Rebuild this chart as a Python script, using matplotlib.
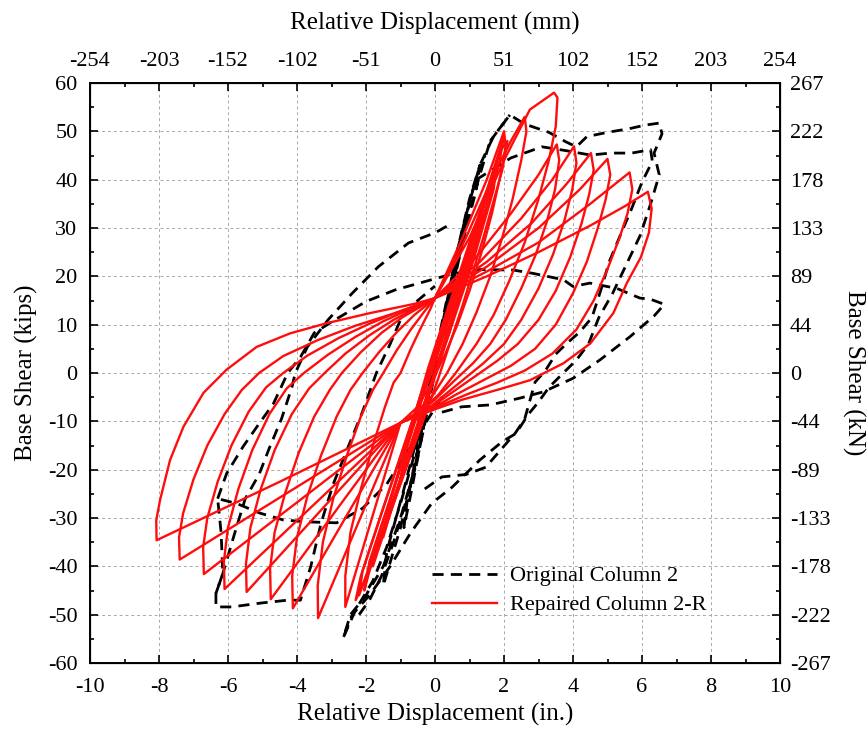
''' base shear vs relative displacement - original column 2 vs repaired column 2-R '''

import numpy as np
import matplotlib.pyplot as plt
from matplotlib.ticker import MultipleLocator

plt.rcParams['font.family'] = ['Liberation Serif', 'DejaVu Serif']
plt.rcParams['axes.unicode_minus'] = False

# ---- repaired column 2-R (red), big cycles, (disp in., shear kips) ----
rep_loop1 = [(0, 15.5), (1.5, 20), (3, 25), (4.5, 30.5), (5.5, 34.5), (6.17, 37.5), (6.28, 34), (6.2, 29),
             (5.97, 24), (5.56, 18.6), (5.17, 12.4), (4.5, 6.1), (3.72, 2), (2.75, -1.5), (1.8, -3.5),
             (0.8, -5.5), (0, -7.5), (-1, -10.3), (-4.5, -22.5), (-8.07, -34.6), (-8.08, -30.5),
             (-7.97, -26.3), (-7.68, -18), (-7.29, -11.1), (-6.71, -4.1), (-6.04, 0.7), (-5.17, 5.4),
             (-4.2, 8.2), (-3.14, 10.3), (-1.88, 12.4), (-0.6, 14.3), (0, 15.5)]
rep_loop2 = [(0, 15.5), (1.5, 21), (3, 27), (4.5, 35), (5.64, 41.5), (5.72, 38), (5.58, 33), (5.35, 28),
             (5.0, 21.5), (4.6, 15), (4.1, 9), (3.4, 4), (2.6, 0.5), (1.8, -2), (0.9, -4.5), (0, -7.2),
             (-1, -10.3), (-7.4, -38.6), (-7.42, -34), (-7.3, -29), (-7.0, -22), (-6.6, -15), (-6.1, -8.5),
             (-5.6, -3.5), (-5.1, 0), (-4.4, 3.5), (-3.4, 6.8), (-2.3, 9.8), (-1.2, 12.3), (-0.4, 14.3),
             (0, 15.5)]
rep_loop3 = [(0, 15.5), (1.5, 22), (3, 30), (4.2, 38), (5.0, 44.3), (5.08, 41), (4.95, 36), (4.72, 30),
             (4.4, 23), (4.0, 16.5), (3.5, 10), (2.9, 5), (2.2, 1.5), (1.4, -1.5), (0.6, -4.5), (0, -7),
             (-1, -10.3), (-6.7, -41.6), (-6.72, -36), (-6.6, -30), (-6.3, -22.5), (-5.9, -15), (-5.4, -8),
             (-4.9, -3), (-4.4, 0), (-3.7, 3.6), (-2.8, 7.2), (-1.9, 10.2), (-1.0, 12.8), (-0.3, 14.6),
             (0, 15.5)]
rep_loop4 = [(0, 15.5), (1.5, 23), (2.8, 31), (3.8, 39), (4.52, 45.5), (4.6, 42), (4.47, 37), (4.25, 31),
             (3.92, 24), (3.5, 17), (3.0, 11), (2.4, 6), (1.8, 2.5), (1.1, -1), (0.4, -4.5), (-0.2, -7.5),
             (-1, -10.3), (-6.1, -44.7), (-6.12, -39), (-6.0, -32), (-5.7, -24), (-5.3, -16), (-4.8, -8.5),
             (-4.3, -3.2), (-3.8, 0), (-3.1, 3.8), (-2.3, 7.5), (-1.5, 10.7), (-0.8, 13), (-0.2, 14.8),
             (0, 15.5)]
rep_loop5 = [(0, 15.5), (1.3, 23), (2.5, 32), (3.4, 40), (4.03, 46.9), (4.1, 43.5), (3.98, 38), (3.75, 31.5),
             (3.42, 24.5), (3.0, 17.5), (2.5, 11), (2.0, 6), (1.4, 2), (0.8, -1.5), (0.2, -5), (-0.3, -8),
             (-1, -10.3), (-5.46, -45.3), (-5.48, -39.5), (-5.35, -32), (-5.05, -24), (-4.65, -16),
             (-4.15, -8.5), (-3.65, -3.2), (-3.2, 0), (-2.6, 4), (-1.9, 7.8), (-1.2, 11), (-0.6, 13.3),
             (0, 15.5)]
rep_loop6 = [(0, 15.5), (1.2, 24), (2.2, 33), (3.0, 41), (3.53, 47.3), (3.6, 44), (3.48, 38), (3.25, 31.5),
             (2.92, 24.5), (2.5, 17.5), (2.05, 11), (1.6, 6), (1.1, 2), (0.5, -2), (0, -5.5), (-0.5, -8.5),
             (-1, -10.3), (-4.76, -46.8), (-4.78, -40.5), (-4.65, -33), (-4.35, -25), (-3.95, -16.5),
             (-3.5, -9), (-3.05, -3.5), (-2.7, 0), (-2.15, 4.3), (-1.55, 8.3), (-0.95, 11.5), (-0.4, 13.8),
             (0, 15.5)]
rep_loop7 = [(0, 15.5), (1.0, 28), (2.0, 44), (2.75, 54.5), (3.45, 58), (3.55, 57), (3.5, 51), (3.3, 44),
             (3.0, 36), (2.6, 27), (2.15, 19), (1.7, 12), (1.2, 6), (0.6, 0), (0.1, -4.5), (-0.5, -8.5),
             (-1, -10.3), (-4.12, -48.7), (-4.14, -42), (-4.0, -34), (-3.7, -25.5), (-3.3, -17), (-2.85, -9),
             (-2.45, -3.5), (-2.1, 0), (-1.6, 4.5), (-1.1, 8.5), (-0.6, 12), (-0.2, 14.3), (0, 15.5)]
rep_loop8 = [(0, 15.5), (0.9, 28), (1.7, 41), (2.2, 48), (2.6, 53), (2.65, 50), (2.5, 44), (2.25, 36),
             (1.95, 28), (1.6, 20), (1.2, 12.5), (0.8, 6), (0.35, 0), (-0.1, -5), (-0.6, -8.5), (-1, -10.3),
             (-3.39, -50.7), (-3.4, -44), (-3.25, -35), (-2.95, -26), (-2.55, -17), (-2.15, -9), (-1.8, -3.5),
             (-1.5, 0), (-1.1, 4.8), (-0.7, 9), (-0.3, 12.8), (0, 15.5)]
rep_loop9 = [(0, 15.5), (0.8, 28), (1.5, 40), (2.0, 50), (2.05, 47), (1.9, 41), (1.65, 33), (1.35, 25),
             (1.0, 17), (0.65, 10), (0.3, 4), (-0.1, -2), (-0.5, -7), (-1, -10.3), (-2.6, -48.4), (-2.6, -42),
             (-2.45, -33), (-2.15, -24), (-1.8, -15), (-1.45, -7), (-1.2, -2), (-1.0, 0), (-0.7, 5),
             (-0.4, 9.5), (-0.15, 13), (0, 15.5)]

# small elastic cycles of 2-R (the dense red band)
rep_core1 = [(-0.1, 0), (0.35, 11), (0.3, 7), (-0.2, -4), (-0.5, -10), (-0.45, -6), (-0.1, 0)]
rep_core2 = [(-0.1, 0), (0.6, 16), (1.0, 25), (0.9, 20), (0.4, 8), (-0.3, -6), (-0.9, -19), (-1.0, -22),
             (-0.85, -16), (-0.3, -3), (0.2, 8)]
rep_core3 = [(0.2, 8), (0.8, 22), (1.4, 35), (1.3, 30), (0.7, 15), (0.0, 0), (-0.7, -15), (-1.3, -29),
             (-1.5, -34), (-1.35, -28), (-0.8, -14), (-0.2, 1), (0.4, 14)]
rep_core4 = [(0.4, 14), (1.0, 27), (1.8, 44), (1.7, 38), (1.1, 23), (0.4, 8), (-0.4, -9), (-1.2, -26),
             (-1.9, -41), (-2.05, -45), (-1.9, -39), (-1.3, -26), (-0.6, -10), (0.0, 3), (0.6, 17)]
rep_core5 = [(0.6, 17), (1.2, 30), (1.9, 46), (2.1, 48), (1.95, 42), (1.4, 28), (0.8, 14), (0.1, -1),
             (-0.6, -15), (-1.4, -31), (-2.1, -44), (-2.3, -47), (-2.15, -42), (-1.6, -30), (-0.9, -15),
             (-0.2, 0), (0.3, 11)]
rep_core6 = [(0.3, 11), (0.9, 24), (1.6, 40), (2.0, 49), (1.85, 43), (1.3, 30), (0.6, 14), (-0.1, -2),
             (-0.8, -18), (-1.6, -34), (-2.2, -46), (-2.1, -41), (-1.5, -28), (-0.7, -11), (0.0, 4)]
rep_core7 = [(-0.2, -2), (0.5, 13), (1.2, 29), (1.7, 41), (1.6, 36), (1.0, 22), (0.3, 6), (-0.5, -12),
             (-1.2, -27), (-1.8, -40), (-1.7, -35), (-1.1, -22), (-0.4, -6), (0.2, 8)]

# ---- original column 2 (black dashed) ----
orig_core = [(0, 3), (0.3, 12), (0.6, 22), (0.9, 32), (0.8, 27), (0.4, 14), (0, 2), (-0.35, -12), (-0.7, -25),
             (-0.9, -32), (-0.8, -26), (-0.45, -14), (-0.1, 0), (0.25, 12), (0.6, 24), (1.0, 36), (1.3, 43),
             (1.2, 38), (0.8, 27), (0.3, 12), (-0.2, -4), (-0.6, -20), (-1.0, -32), (-1.5, -44), (-1.4, -37),
             (-0.9, -24), (-0.4, -10), (0.1, 5), (0.5, 19), (0.9, 31), (1.3, 41), (1.6, 48)]
orig_core2 = [(-2.65, -54.6), (-2.3, -49), (-1.8, -43), (-1.4, -36), (-1.0, -27), (-0.6, -17), (-0.3, -7),
              (0, 3), (0.3, 13), (0.6, 24), (0.95, 34), (1.3, 43), (1.7, 49), (2.17, 53.4)]
orig_core3 = [(-2.2, -50), (-1.9, -47), (-1.55, -42), (-1.2, -35), (-0.9, -28), (-0.55, -19), (-0.25, -9),
              (0.1, 6), (0.45, 18), (0.75, 28), (1.1, 38), (1.45, 45)]
orig_a = [(1.6, 48), (2.17, 53.4), (2.6, 51.5), (3.3, 49.8), (3.8, 47.8), (4.1, 46.8), (4.4, 48.9), (5.0, 49.8),
          (5.6, 50.5), (6.1, 51.3), (6.5, 51.7), (6.58, 49.5), (6.35, 45.5), (6.5, 41), (6.25, 35), (5.95, 28.5),
          (5.55, 22.5), (5.15, 16.5), (4.75, 11.5), (4.45, 6), (4.1, 2.7), (3.62, -0.7), (3.3, -3), (3.0, -6),
          (2.7, -8.6), (2.35, -12.5), (1.95, -14.2), (1.3, -18), (0.5, -23.6), (-0.1, -27), (-0.7, -33),
          (-1.3, -40), (-1.9, -46), (-2.4, -50), (-2.65, -54.6), (-2.45, -50), (-2.0, -46), (-1.5, -40),
          (-1.0, -30), (-0.6, -20), (-0.3, -10), (0, 0)]
orig_b = [(1.2, 40), (2.2, 44.5), (3.1, 46.8), (3.8, 46), (4.5, 45.1), (5.1, 45.5), (5.7, 45.5), (6.25, 46.2),
          (6.3, 43.8), (6.0, 39.5), (5.7, 34), (5.4, 29), (5.05, 23), (4.8, 17), (4.55, 11.5), (4.2, 8.5),
          (3.8, 6), (3.5, 3.9), (3.2, 0.5), (2.9, -1.9), (2.6, -9.5), (2.33, -12.4), (1.47, -19.5),
          (0.9, -21), (0.2, -21.5), (-0.3, -24)]
orig_c = [(0.2, -5), (-0.6, -14), (-1.4, -23), (-2.1, -28), (-2.85, -31), (-3.7, -30.8), (-4.4, -30.4),
          (-5.07, -29), (-5.75, -27), (-6.3, -26), (-6.2, -33), (-6.15, -41.5), (-6.35, -45.6), (-6.35, -48.4),
          (-5.9, -48.4), (-5.05, -47.6), (-4.27, -47), (-3.9, -47), (-3.6, -40), (-3.3, -31), (-2.95, -23),
          (-2.5, -15), (-2.1, -8), (-1.7, 0), (-1.3, 6), (-1.0, 11), (-0.5, 15), (0, 18)]
orig_d = [(-6.35, -45.6), (-6.15, -41.5), (-5.8, -33), (-5.5, -26), (-5.1, -21), (-4.8, -15.5), (-4.45, -9.5),
          (-4.15, -3), (-4.05, 0), (-3.7, 5.4), (-3.1, 11), (-2.4, 16.5), (-1.64, 22), (-0.77, 26.9), (0, 29),
          (0.5, 31)]
orig_e = [(-6.3, -26), (-6.04, -20.8), (-5.56, -15.2), (-5.1, -10.5), (-4.68, -6.3), (-4.27, 0), (-3.9, 3.3),
          (-3.5, 8.3), (-2.9, 11), (-2.0, 14.8), (-1.15, 17.2), (-0.1, 19.3), (0.5, 20.5), (1.3, 21.4),
          (2.27, 21.3), (2.85, 20.6), (3.72, 19.3), (4.0, 17.9), (4.49, 18.6), (5.27, 17.5), (5.94, 15.5),
          (6.23, 15.3), (6.65, 14.2), (6.35, 11.8), (5.65, 7.5), (4.78, 2.7), (4.0, -1.1), (3.14, -3.9),
          (2.46, -5.2), (1.6, -6.6), (0.77, -7), (0, -8.5)]

x_ticks = [-10, -8, -6, -4, -2, 0, 2, 4, 6, 8, 10]
mm_labels = ['-254', '-203', '-152', '-102', '-51', '0', '51', '102', '152', '203', '254']
y_ticks = [-60, -50, -40, -30, -20, -10, 0, 10, 20, 30, 40, 50, 60]
kn_labels = ['-267', '-222', '-178', '-133', '-89', '-44', '0', '44', '89', '133', '178', '222', '267']

red_loops = [rep_core1, rep_core2, rep_core3, rep_core4, rep_core5, rep_core6, rep_core7,
             rep_loop9, rep_loop8, rep_loop7, rep_loop6, rep_loop5, rep_loop4, rep_loop3, rep_loop2, rep_loop1]
black_paths = [orig_core, orig_core2, orig_core3, orig_a, orig_b, orig_c, orig_d, orig_e]

fig = plt.figure(figsize=(8.67, 7.37), dpi=100)
ax = fig.add_axes([90 / 867, 1 - 663 / 737, 690 / 867, 580 / 737])

dash = (0, (4, 2.6))
for i, p in enumerate(black_paths):
    xs, ys = zip(*p)
    ax.plot(xs, ys, color='black', lw=2.0, linestyle=dash, zorder=2,
            label='Original Column 2' if i == 0 else None)
for i, p in enumerate(red_loops):
    xs, ys = zip(*p)
    ax.plot(xs, ys, color='#ff0d0d', lw=1.7, zorder=3,
            label='Repaired Column 2-R' if i == 0 else None)

tick_fs = 16
lab_fs = 18

ax.set_xlim(-10, 10)
ax.set_ylim(-60, 60)
ax.set_xticks(x_ticks)
ax.set_yticks(y_ticks)
ax.xaxis.set_minor_locator(MultipleLocator(1))
ax.yaxis.set_minor_locator(MultipleLocator(5))
ax.grid(True, which='major', color='#a8a8a8', linestyle=(0, (3, 3)), lw=0.7)
ax.tick_params(which='both', direction='in', top=False, right=False, labelsize=tick_fs, width=1.2)
ax.tick_params(axis='x', which='major', length=6, pad=11)
ax.tick_params(axis='y', which='major', length=6, pad=9)
ax.tick_params(which='minor', length=3)
for s in ax.spines.values():
    s.set_linewidth(1.4)
ax.set_xlabel('Relative Displacement (in.)', fontsize=lab_fs, labelpad=4)
ax.set_ylabel('Base Shear (kips)', fontsize=lab_fs, labelpad=7)

# top axis in mm
axt = ax.twiny()
axt.set_xlim(ax.get_xlim())
axt.set_xticks(x_ticks)
axt.set_xticklabels(mm_labels)
axt.xaxis.set_minor_locator(MultipleLocator(1))
axt.tick_params(which='both', direction='in', labelsize=tick_fs, width=1.2)
axt.tick_params(which='major', length=6, pad=9)
axt.tick_params(which='minor', length=3)
axt.set_xlabel('Relative Displacement (mm)', fontsize=lab_fs, labelpad=16)

# right axis in kN
axr = ax.twinx()
axr.set_ylim(ax.get_ylim())
axr.set_yticks(y_ticks)
axr.set_yticklabels(kn_labels)
axr.yaxis.set_minor_locator(MultipleLocator(5))
axr.tick_params(which='both', direction='in', labelsize=tick_fs, width=1.2)
axr.tick_params(which='major', length=6, pad=7)
axr.tick_params(which='minor', length=3)
axr.set_ylabel('Base Shear (kN)', fontsize=lab_fs, rotation=270, labelpad=25)

leg = ax.legend(loc='upper left', bbox_to_anchor=(0.467, 0.202), frameon=False, fontsize=16,
                handlelength=2.9, handletextpad=0.6, labelspacing=0.38)

fig.savefig('out.png', dpi=100)
